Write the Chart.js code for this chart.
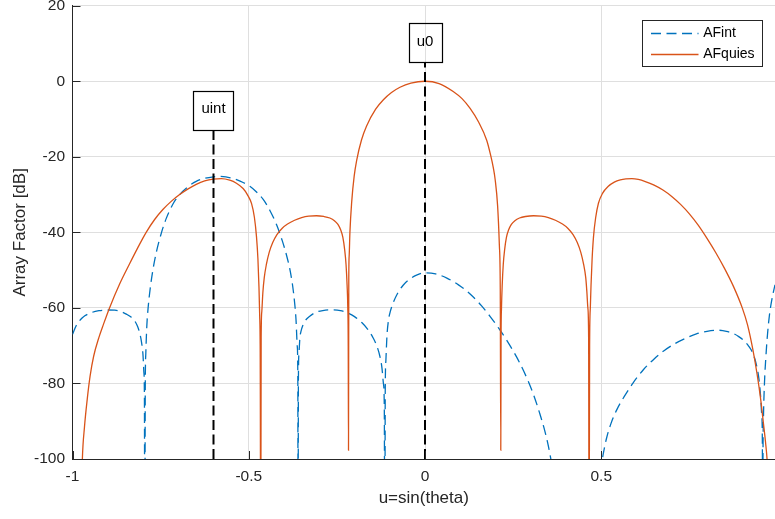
<!DOCTYPE html>
<html>
<head>
<meta charset="utf-8">
<script src="https://cdn.jsdelivr.net/npm/chart.js@4.4.1/dist/chart.umd.min.js"></script>
<style>
  html, body { margin: 0; padding: 0; background: #fff; overflow: hidden; }
</style>
</head>
<body>
<canvas id="afChart" width="775" height="519"></canvas>
<script>
// --- 1. Data ---
// AFint (dashed): u = sin(theta), value in dB
const afintU = [
  -1.000, -0.990, -0.980, -0.965, -0.945, -0.925, -0.900, -0.880, -0.862, -0.846,
  -0.833, -0.823, -0.815, -0.809, -0.804, -0.800, -0.7975, -0.796, -0.795, -0.7935,
  -0.792, -0.789, -0.785, -0.780, -0.772, -0.762, -0.748, -0.734, -0.715, -0.696,
  -0.672, -0.649, -0.625, -0.600, -0.582, -0.565, -0.550, -0.533, -0.516, -0.497,
  -0.478, -0.459, -0.440, -0.421, -0.405, -0.393, -0.384, -0.376, -0.370, -0.366,
  -0.3625, -0.3608, -0.360, -0.3592, -0.3575, -0.355, -0.352, -0.346, -0.340, -0.327,
  -0.310, -0.290, -0.265, -0.240, -0.220, -0.200, -0.180, -0.163, -0.148, -0.137,
  -0.128, -0.122, -0.118, -0.1155, -0.114, -0.1128, -0.111, -0.108, -0.104, -0.098,
  -0.090, -0.078, -0.062, -0.045, -0.024, 0.000, 0.030, 0.062, 0.095, 0.128,
  0.160, 0.185, 0.210, 0.232, 0.252, 0.270, 0.290, 0.308, 0.325, 0.340,
  0.350, 0.358, 0.370, 0.400, 0.430, 0.470, 0.490, 0.500, 0.505, 0.515,
  0.528, 0.545, 0.565, 0.590, 0.620, 0.650, 0.680, 0.710, 0.740, 0.770,
  0.800, 0.829, 0.855, 0.875, 0.890, 0.905, 0.918, 0.930, 0.940, 0.947,
  0.952, 0.955, 0.957, 0.958, 0.9588, 0.960, 0.963, 0.967, 0.971, 0.977,
  0.984, 0.9929, 0.998
];
const afintDb = [
  -67.0, -64.8, -63.4, -62.1, -61.2, -60.75, -60.55, -60.6, -61.0, -61.7,
  -62.5, -63.5, -65.0, -66.8, -69.2, -72.5, -77.0, -83.0, -130, -80.0,
  -72.0, -64.5, -59.5, -55.2, -50.0, -45.2, -40.2, -36.3, -32.5, -30.0,
  -27.9, -26.5, -25.7, -25.3, -25.2, -25.3, -25.6, -26.1, -26.8, -27.8,
  -29.3, -31.3, -34.2, -38.0, -42.2, -46.0, -49.5, -53.8, -58.5, -63.0,
  -70.0, -78.0, -130, -80.0, -72.0, -68.0, -66.3, -64.5, -63.4, -62.2,
  -61.2, -60.7, -60.5, -60.7, -61.3, -62.3, -63.8, -65.6, -67.8, -70.0,
  -72.8, -76.0, -80.0, -86.0, -130, -82.0, -74.0, -67.5, -63.5, -60.8,
  -58.6, -56.2, -54.0, -52.5, -51.3, -50.7, -51.0, -52.1, -53.9, -56.3,
  -59.4, -62.3, -65.5, -68.6, -71.7, -74.8, -78.8, -83.0, -87.8, -92.6,
  -96.6, -100.5, -107, -116, -120, -116, -108, -102, -99.0, -94.5,
  -90.5, -86.8, -83.5, -79.9, -76.3, -73.5, -71.2, -69.4, -68.0, -66.9,
  -66.2, -65.9, -66.2, -66.8, -67.6, -68.7, -70.1, -72.0, -75.0, -78.6,
  -83.3, -88.0, -95.0, -130, -100, -90.0, -80.0, -73.0, -67.7, -62.0,
  -57.8, -53.9, -52.0
];

// AFquies (solid)
const afquiesU = [
  -1.000, -0.985, -0.975, -0.972, -0.966, -0.958, -0.950, -0.940, -0.925, -0.912,
  -0.895, -0.866, -0.838, -0.815, -0.791, -0.767, -0.743, -0.720, -0.696, -0.672,
  -0.649, -0.625, -0.601, -0.578, -0.554, -0.535, -0.516, -0.504, -0.492, -0.484,
  -0.478, -0.474, -0.471, -0.469, -0.4675, -0.466, -0.4648, -0.463, -0.460, -0.456,
  -0.450, -0.442, -0.432, -0.420, -0.405, -0.390, -0.370, -0.350, -0.330, -0.308,
  -0.287, -0.270, -0.257, -0.247, -0.239, -0.233, -0.228, -0.224, -0.221, -0.219,
  -0.2178, -0.217, -0.2162, -0.215, -0.213, -0.208, -0.201, -0.194, -0.180, -0.166,
  -0.140, -0.118, -0.095, -0.071, -0.040, 0, 0.040, 0.080, 0.105, 0.128,
  0.152, 0.175, 0.186, 0.194, 0.199, 0.206, 0.211, 0.2135, 0.215, 0.2158,
  0.217, 0.219, 0.222, 0.226, 0.231, 0.237, 0.245, 0.255, 0.268, 0.285,
  0.308, 0.330, 0.350, 0.370, 0.390, 0.405, 0.420, 0.432, 0.442, 0.450,
  0.456, 0.459, 0.462, 0.4642, 0.4655, 0.467, 0.469, 0.471, 0.474, 0.478,
  0.484, 0.492, 0.504, 0.520, 0.537, 0.554, 0.570, 0.587, 0.605, 0.625,
  0.650, 0.675, 0.700, 0.725, 0.750, 0.775, 0.800, 0.825, 0.850, 0.875,
  0.900, 0.915, 0.930, 0.942, 0.952, 0.960, 0.966, 0.971, 0.976, 0.985,
  0.994
];
const afquiesDb = [
  -114, -118, -112, -100, -91.5, -84.0, -78.0, -72.8, -67.8, -64.3,
  -60.0, -53.6, -48.3, -44.1, -40.0, -36.6, -33.9, -31.8, -30.0, -28.5,
  -27.3, -26.4, -25.9, -25.8, -26.2, -27.0, -28.4, -30.0, -32.4, -36.0,
  -41.2, -47.0, -54.5, -62.0, -72.0, -130, -68.0, -61.0, -56.0, -52.0,
  -48.5, -45.3, -42.7, -40.6, -38.9, -37.8, -36.8, -36.1, -35.7, -35.6,
  -35.8, -36.2, -36.9, -37.9, -39.4, -41.3, -44.5, -48.5, -54.0, -60.0,
  -70.0, -97.7, -52.0, -46.0, -40.0, -32.0, -25.2, -21.0, -15.5, -11.9,
  -7.4, -4.9, -3.0, -1.6, -0.5, 0, -0.6, -2.7, -4.6, -7.2,
  -10.8, -15.6, -19.5, -23.0, -26.0, -33.0, -43.5, -55.0, -97.7, -68.0,
  -60.0, -54.0, -48.5, -44.5, -41.3, -39.4, -37.9, -36.9, -36.2, -35.8,
  -35.6, -35.7, -36.1, -36.8, -37.8, -38.9, -40.6, -42.7, -45.3, -48.5,
  -52.0, -55.5, -60.0, -68.0, -130, -70.0, -60.0, -54.0, -47.2, -41.2,
  -36.2, -32.3, -29.6, -27.8, -26.7, -26.1, -25.85, -25.8, -26.0, -26.55,
  -27.5, -28.8, -30.5, -32.6, -35.1, -38.1, -41.6, -45.4, -49.6, -54.3,
  -60.0, -64.5, -71.0, -77.5, -84.0, -90.5, -95.5, -101, -112, -118,
  -114
];

const seriesNames = ['AFint', 'AFquies'];

// marker lines: where they stand and how high they reach (dB)
const markerU = [-0.6, 0];
const markerTopDb = [-12.8, 5.1];
const markerLabels = ['uint', 'u0'];

const FONT = '"Liberation Sans", Arial, Helvetica, sans-serif';
const AXIS_COLOR = '#262626';

function toPoints(us, dbs) {
    return us.map((u, i) => ({ x: u, y: dbs[i] }));
}

// --- 2. Plugins: inward ticks, labelled markers, boxed legend ---
const innerTicks = {
    id: 'innerTicks',
    afterDatasetsDraw(chart) {
        const { ctx, chartArea, scales } = chart;
        ctx.save();
        ctx.strokeStyle = AXIS_COLOR;
        ctx.lineWidth = 1;
        ctx.beginPath();
        scales.y.ticks.forEach(t => {
            const py = Math.round(scales.y.getPixelForValue(t.value)) + 0.5;
            ctx.moveTo(chartArea.left, py);
            ctx.lineTo(chartArea.left + 8, py);
        });
        scales.x.ticks.forEach(t => {
            const px = Math.round(scales.x.getPixelForValue(t.value)) + 0.5;
            ctx.moveTo(px, chartArea.bottom);
            ctx.lineTo(px, chartArea.bottom - 8);
        });
        ctx.stroke();
        ctx.restore();
    }
};

const markerBoxes = {
    id: 'markerBoxes',
    afterDatasetsDraw(chart) {
        const { ctx, scales } = chart;
        ctx.save();
        ctx.font = '15px ' + FONT;
        ctx.textAlign = 'center';
        ctx.textBaseline = 'middle';
        ctx.strokeStyle = '#000';
        ctx.fillStyle = '#000';
        ctx.lineWidth = 1.2;
        markerU.forEach((u, i) => {
            const px = scales.x.getPixelForValue(u);
            const py = scales.y.getPixelForValue(markerTopDb[i]);
            const tw = ctx.measureText(markerLabels[i]).width;
            const bw = tw + 16, bh = 39;
            ctx.strokeRect(Math.round(px - bw / 2) + 0.5, Math.round(py - bh) + 0.5, Math.round(bw), Math.round(bh));
            ctx.fillText(markerLabels[i], px, py - bh / 2 - 1);
        });
        ctx.restore();
    }
};

const boxLegend = {
    id: 'boxLegend',
    afterDraw(chart) {
        const { ctx, chartArea } = chart;
        ctx.save();
        ctx.font = '14px ' + FONT;
        const textW = Math.max(...seriesNames.map(n => ctx.measureText(n).width));
        const sampleW = 47.5, padL = 9, gap = 4.7, padR = 7;
        const w = Math.round(padL + sampleW + gap + textW + padR);
        const h = 46;
        const right = chartArea.right - 13;
        const top = chartArea.top + 14;
        const left = Math.round(right - w);
        ctx.fillStyle = '#fff';
        ctx.fillRect(left, top, w, h);
        ctx.strokeStyle = AXIS_COLOR;
        ctx.lineWidth = 1;
        ctx.strokeRect(left + 0.5, Math.round(top) + 0.5, w, h);

        seriesNames.forEach((name, i) => {
            const ds = chart.data.datasets[i];
            const y = Math.round(top + 13.5 + i * 21) + 0.5;
            ctx.strokeStyle = ds.borderColor;
            ctx.lineWidth = ds.borderWidth;
            ctx.setLineDash(ds.borderDash || []);
            ctx.beginPath();
            ctx.moveTo(left + padL, y);
            ctx.lineTo(left + padL + sampleW, y);
            ctx.stroke();
            ctx.setLineDash([]);
            ctx.fillStyle = '#000';
            ctx.textAlign = 'left';
            ctx.textBaseline = 'middle';
            ctx.fillText(name, left + padL + sampleW + gap, y);
        });
        ctx.restore();
    }
};

// --- 3. Chart ---
const markerSets = markerU.map((u, i) => ({
    label: markerLabels[i],
    data: [{ x: u, y: -100 }, { x: u, y: markerTopDb[i] }],
    borderColor: '#000',
    borderWidth: 2,
    borderDash: [10, 4.5],
    pointRadius: 0,
    order: 1
}));

const ctx = document.getElementById('afChart');
new Chart(ctx, {
    type: 'line',
    data: {
        datasets: [
            {
                label: seriesNames[0],
                data: toPoints(afintU, afintDb),
                borderColor: '#0072BD',
                borderWidth: 1.3,
                borderDash: [10, 5.5],
                pointRadius: 0,
                cubicInterpolationMode: 'monotone',
                order: 3
            },
            {
                label: seriesNames[1],
                data: toPoints(afquiesU, afquiesDb),
                borderColor: '#D95319',
                borderWidth: 1.3,
                pointRadius: 0,
                cubicInterpolationMode: 'monotone',
                order: 2
            },
            ...markerSets
        ]
    },
    options: {
        responsive: false,
        animation: false,
        devicePixelRatio: 1,
        layout: { padding: { top: 5.7, right: 0, left: 0, bottom: 0 } },
        plugins: { legend: { display: false }, tooltip: { enabled: false } },
        scales: {
            x: {
                type: 'linear',
                min: -1,
                max: 0.9929,
                afterFit: s => { s.height = 60; s.paddingLeft = 0; s.paddingRight = 0; },
                ticks: {
                    stepSize: 0.5,
                    includeBounds: false,
                    padding: 8.5,
                    color: AXIS_COLOR,
                    font: { family: FONT, size: 15.5 },
                    callback: v => String(+v.toFixed(2))
                },
                grid: { color: '#dfdfdf', lineWidth: 1, drawTicks: false },
                border: { display: true, color: AXIS_COLOR, width: 1 },
                title: {
                    display: true,
                    text: 'u=sin(theta)',
                    color: AXIS_COLOR,
                    font: { family: FONT, size: 17 },
                    padding: { top: 0, bottom: 10.5 }
                }
            },
            y: {
                type: 'linear',
                min: -100,
                max: 20,
                afterFit: s => { s.width = 72.5; s.paddingTop = 0; s.paddingBottom = 0; },
                ticks: {
                    stepSize: 20,
                    padding: 7.5,
                    color: AXIS_COLOR,
                    font: { family: FONT, size: 15.5 },
                    callback: v => String(v)
                },
                grid: { color: '#dfdfdf', lineWidth: 1, drawTicks: false },
                border: { display: true, color: AXIS_COLOR, width: 1 },
                title: {
                    display: true,
                    text: 'Array Factor [dB]',
                    color: AXIS_COLOR,
                    font: { family: FONT, size: 17 },
                    padding: { top: 9.8, bottom: 0 }
                }
            }
        }
    },
    plugins: [innerTicks, markerBoxes, boxLegend]
});
</script>
</body>
</html>
